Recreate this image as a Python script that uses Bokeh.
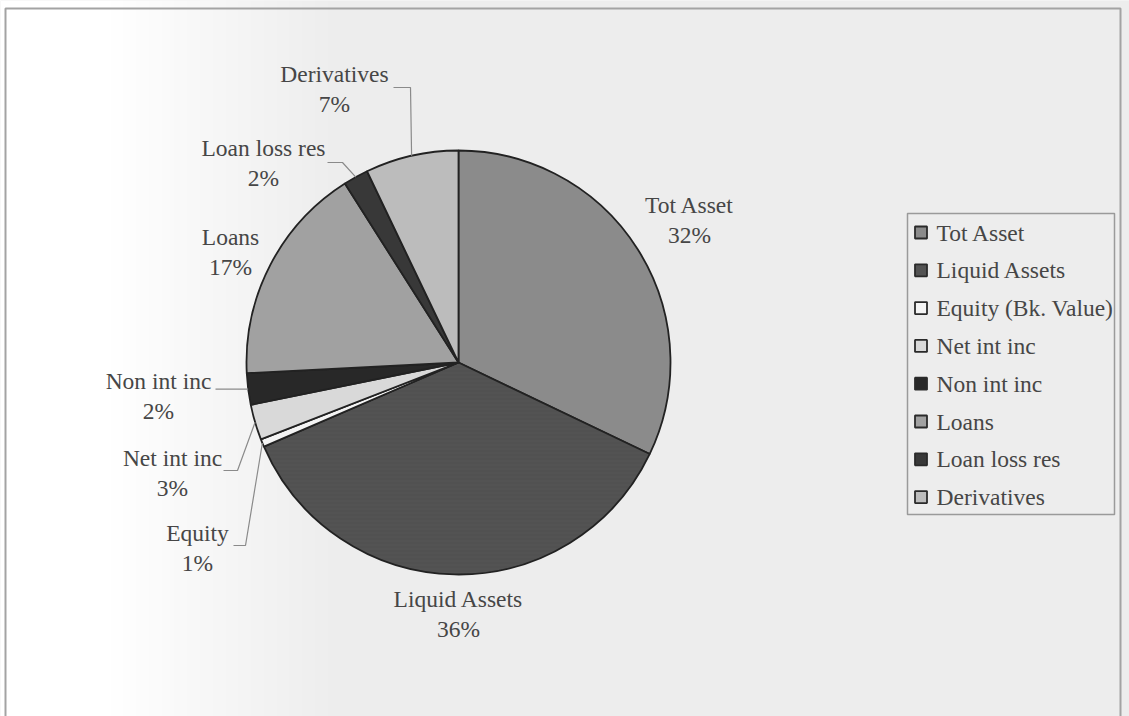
import math
import numpy as np
from bokeh.plotting import figure
from bokeh.models import Range1d
from bokeh.core.properties import value
from bokeh.embed import file_html
from bokeh.resources import INLINE

# ---- data ----
categories = ["Tot Asset", "Liquid Assets", "Equity (Bk. Value)", "Net int inc",
              "Non int inc", "Loans", "Loan loss res", "Derivatives"]
pie_labels = ["Tot Asset", "Liquid Assets", "Equity", "Net int inc",
              "Non int inc", "Loans", "Loan loss res", "Derivatives"]
shares = [32.1, 36.4, 0.6, 2.7, 2.4, 16.8, 1.9, 7.1]

# ---- styles / layout ----
colors = ["#8b8b8b", "#535353", "#f4f4f4", "#d9d9d9", "#282828", "#a1a1a1", "#383838", "#bcbcbc"]
W, H = 1129, 716
CX, CY, R = 458, 362, 212          # pie centre / radius in screen pixels
FONT = value("Liberation Serif")
FS = "23.5px"
TXT = "#464646"
# label centre (name line) in screen pixels; percent line 30px below
label_pos = {
    "Tot Asset": (689, 204), "Liquid Assets": (458, 598), "Equity": (197, 532),
    "Net int inc": (172, 457), "Non int inc": (158, 380), "Loans": (230, 236),
    "Loan loss res": (263, 147), "Derivatives": (334, 73),
}
# leader lines: (start x, y of horizontal stub, stub end x)
leaders = {
    "Derivatives": (393, 87, 410),
    "Loan loss res": (327, 162, 342),
    "Non int inc": (215, None, None),
    "Net int inc": (223, 470, 237),
    "Equity": (233, 545, 245),
}

def Y(y):
    return H - y

p = figure(width=W, height=H, output_backend="svg", toolbar_location=None,
           x_range=Range1d(0, W), y_range=Range1d(0, H), min_border=0)
p.axis.visible = False
p.grid.visible = False
p.outline_line_color = None
p.background_fill_color = "#eeeeee"
p.border_fill_color = "#eeeeee"

# background gradient (white on the left fading to light grey)
cols = np.arange(W)
lev = np.where(cols < 110, 255.0,
               np.where(cols > 340, 237.0, 255.0 - (cols - 110) / 230.0 * 18.0))
lev = lev.astype(np.uint8)
img = np.zeros((2, W), dtype=np.uint32)
view = img.view(dtype=np.uint8).reshape((2, W, 4))
view[:, :, 0] = lev
view[:, :, 1] = lev
view[:, :, 2] = lev
view[:, :, 3] = 255
p.image_rgba(image=[img], x=0, y=0, dw=W, dh=H)

# outer chart frame
p.quad(left=5, right=1120, bottom=Y(722), top=Y(8), fill_color=None,
       line_color="#a3a3a3", line_width=2)

# pie wedges (clockwise from 12 o'clock)
total = sum(shares)
cum = 0.0
starts, ends = [], []
for s in shares:
    a0 = math.pi / 2 - 2 * math.pi * cum / total
    cum += s
    a1 = math.pi / 2 - 2 * math.pi * cum / total
    starts.append(a1)
    ends.append(a0)

for i, cat in enumerate(categories):
    kw = {}
    if cat == "Liquid Assets":
        kw = dict(hatch_pattern="horizontal_line", hatch_color="#4a4a4a",
                  hatch_scale=4, hatch_weight=1, hatch_alpha=0.5)
    p.wedge(x=CX, y=Y(CY), radius=R, start_angle=starts[i], end_angle=ends[i],
            fill_color=colors[i], line_color="#222222", line_width=1.8, **kw)

# labels
for i, name in enumerate(pie_labels):
    lx, ly = label_pos[name]
    pct = f"{round(shares[i] / total * 100)}%"
    p.text(x=[lx], y=[Y(ly)], text=[name], text_font=FONT, text_font_size=FS,
           text_color=TXT, text_align="center", text_baseline="middle")
    p.text(x=[lx], y=[Y(ly + 30)], text=[pct], text_font=FONT, text_font_size=FS,
           text_color=TXT, text_align="center", text_baseline="middle")

# leader lines to slice mid-points on the rim
xs, ys = [], []
for i, name in enumerate(pie_labels):
    if name not in leaders:
        continue
    mid = (ends[i] + starts[i]) / 2
    ex = CX + R * math.cos(mid)
    ey = CY - R * math.sin(mid)
    sx, sy, kx = leaders[name]
    if sy is None:
        xs.append([sx, ex])
        ys.append([Y(ey), Y(ey)])
    else:
        xs.append([sx, kx, ex])
        ys.append([Y(sy), Y(sy), Y(ey)])
p.multi_line(xs=xs, ys=ys, line_color="#8a8a8a", line_width=1.2)

# legend
LX0, LX1, LY0, LY1 = 907, 1114, 213, 514
p.quad(left=LX0, right=LX1, bottom=Y(LY1), top=Y(LY0), fill_color=None,
       line_color="#9a9a9a", line_width=1.5)
step = 37.8
for i, cat in enumerate(categories):
    yy = 232 + i * step
    p.rect(x=[920.5], y=[Y(yy)], width=12, height=12, fill_color=colors[i],
           line_color="#2a2a2a", line_width=1.8)
    p.text(x=[936], y=[Y(yy)], text=[cat], text_font=FONT, text_font_size=FS,
           text_color=TXT, text_align="left", text_baseline="middle")

open("out.html", "w").write(file_html(p, INLINE))
